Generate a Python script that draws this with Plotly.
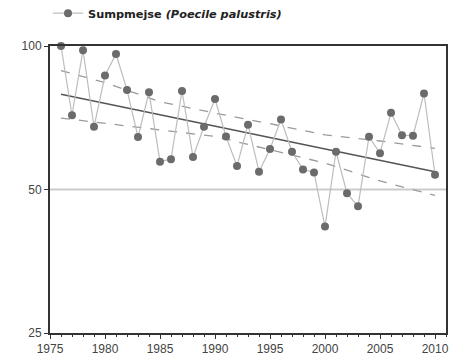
import plotly.graph_objects as go

years = list(range(1976, 2011))
index_values = [100, 71.6, 98, 67.7, 86.7, 96.2, 80.9, 64.4, 80, 57.2,
                57.9, 80.5, 58.5, 67.7, 77.4, 64.6, 56, 68.4, 54.5, 60.8,
                70.1, 60, 55.1, 54.3, 41.8, 60, 49.1, 46.1, 64.5, 59.6,
                72.4, 65, 64.8, 79.5, 53.7]

trend_years = [1976, 2010]
trend_values = [79.2, 54.5]

band_years = [1976, 1980, 1985, 1990, 1995, 2000, 2005, 2010]
upper_values = [88.8, 83.8, 76.4, 72.3, 68.7, 65.1, 63.2, 61.0]
lower_values = [70.6, 68.9, 66.7, 64.6, 60.6, 56.8, 52.1, 48.6]

y_ticks = [25, 50, 100]
x_ticks = list(range(1975, 2011, 5))

fig = go.Figure()

fig.add_trace(go.Scatter(x=band_years, y=upper_values, mode="lines",
                         line=dict(color="#9a9a9a", width=1.3, dash="dash"),
                         showlegend=False, hoverinfo="skip"))
fig.add_trace(go.Scatter(x=band_years, y=lower_values, mode="lines",
                         line=dict(color="#9a9a9a", width=1.3, dash="dash"),
                         showlegend=False, hoverinfo="skip"))
fig.add_trace(go.Scatter(x=trend_years, y=trend_values, mode="lines",
                         line=dict(color="#555555", width=1.6),
                         showlegend=False, hoverinfo="skip"))
fig.add_trace(go.Scatter(x=years, y=index_values, mode="lines+markers",
                         name="<b>Sumpmejse <i>(Poecile palustris)</i></b>",
                         line=dict(color="#bdbdbd", width=1.2),
                         marker=dict(color="#6b6b6b", size=8),
                         cliponaxis=False))

fig.update_layout(
    width=454, height=360,
    margin=dict(l=50, r=8, t=46, b=27, autoexpand=False),
    paper_bgcolor="white", plot_bgcolor="white",
    font=dict(family="Liberation Sans, Arial, sans-serif", size=11, color="#444444"),
    showlegend=True,
    legend=dict(x=-0.005, y=1.165, xanchor="left", yanchor="top",
                font=dict(family="DejaVu Sans, sans-serif", size=11.3, color="#222222"),
                itemwidth=30, bgcolor="rgba(0,0,0,0)"),
)

fig.update_xaxes(range=[1975, 2011], tickmode="array", tickvals=x_ticks,
                 ticktext=[str(t) for t in x_ticks],
                 ticks="outside", ticklen=4, tickwidth=1.2, tickcolor="#333",
                 showgrid=False, zeroline=False,
                 showline=True, linecolor="#333333", linewidth=2, mirror=True,
                 minor=dict(dtick=1, ticks="outside", ticklen=2, tickcolor="#333", showgrid=False),
                 tickfont=dict(size=12))
fig.update_yaxes(type="log", range=[1.39794, 2.0], tickmode="array", tickvals=y_ticks,
                 ticktext=[str(t) for t in y_ticks],
                 ticks="outside", ticklen=4, tickwidth=1.2, tickcolor="#333",
                 showgrid=False, zeroline=False,
                 showline=True, linecolor="#333333", linewidth=2, mirror=True,
                 tickfont=dict(size=12))

fig.add_hline(y=50, line=dict(color="#cccccc", width=2), layer="below")

fig.write_html("out.html", config={"displayModeBar": False},
               post_script="document.body.style.margin='0';document.body.style.overflow='hidden';")
